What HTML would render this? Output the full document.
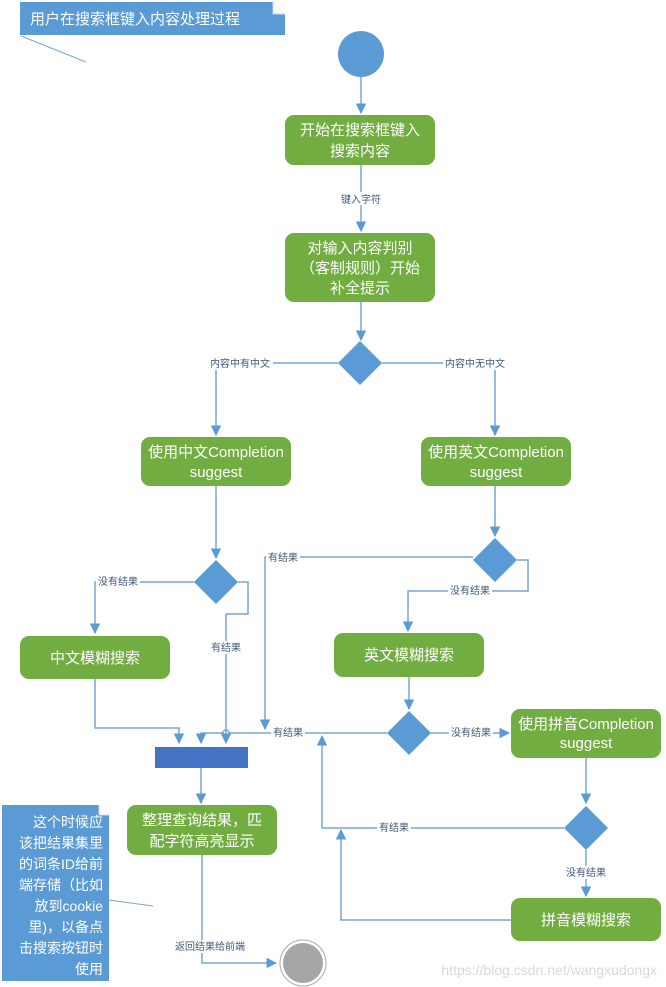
<!DOCTYPE html>
<html><head><meta charset="utf-8"><style>
html,body{margin:0;padding:0;background:#fff;}
svg{display:block;font-family:"Liberation Sans","Noto Sans CJK SC",sans-serif;}
.g{fill:#72ad41;}
.t{fill:#fff;font-size:15px;text-anchor:middle;}
.l{fill:#41597a;font-size:10px;text-anchor:middle;}
.ln{stroke:#7aa5d8;stroke-width:1.5;fill:none;}
.d{fill:#5b9bd5;}
</style></head><body>
<svg width="666" height="987" viewBox="0 0 666 987" xmlns="http://www.w3.org/2000/svg">
<defs><marker id="a" viewBox="0 0 10 10" refX="9" refY="5" markerWidth="7" markerHeight="7" orient="auto"><path d="M0,0L10,5L0,10z" fill="#5b9bd5"/></marker></defs>
<rect x="0" y="0" width="666" height="987" fill="#fff"/>
<!-- title note -->
<path d="M20,2H273L285,14V35H20Z" fill="#5b9bd5"/>
<path d="M273,2V14H285" fill="#fff" stroke="#c8d8ee" stroke-width="1"/>
<line x1="21" y1="36" x2="86" y2="62" stroke="#7aa5d8" stroke-width="1"/>
<text x="30" y="24" fill="#fff" font-size="15">用户在搜索框键入内容处理过程</text>
<!-- start -->
<circle cx="361" cy="54" r="23" class="d"/>
<line class="ln" x1="361" y1="77" x2="361" y2="113" marker-end="url(#a)"/>
<rect class="g" x="285" y="115" width="150" height="50" rx="9"/>
<text class="t" x="360" y="135">开始在搜索框键入</text>
<text class="t" x="360" y="156">搜索内容</text>
<line class="ln" x1="361" y1="165" x2="361" y2="231" marker-end="url(#a)"/>
<rect x="336" y="192" width="50" height="13" fill="#fff"/>
<text class="l" x="361" y="203">键入字符</text>
<rect class="g" x="285" y="233" width="150" height="69" rx="9"/>
<text class="t" x="360" y="253">对输入内容判别</text>
<text class="t" x="360" y="273">（客制规则）开始</text>
<text class="t" x="360" y="293">补全提示</text>
<line class="ln" x1="361" y1="302" x2="361" y2="340" marker-end="url(#a)"/>
<path class="d" d="M360,341L382,363L360,385L338,363Z"/>
<path class="ln" d="M338,363H216V435" marker-end="url(#a)"/>
<rect x="208" y="357" width="65" height="13" fill="#fff"/>
<text class="l" x="240" y="367">内容中有中文</text>
<path class="ln" d="M382,363H495V435" marker-end="url(#a)"/>
<rect x="443" y="357" width="65" height="13" fill="#fff"/>
<text class="l" x="475" y="367">内容中无中文</text>
<rect class="g" x="141" y="437" width="150" height="49" rx="9"/>
<text class="t" x="216" y="457">使用中文Completion</text>
<text class="t" x="216" y="477" font-size="13">suggest</text>
<rect class="g" x="421" y="437" width="150" height="49" rx="9"/>
<text class="t" x="496" y="457">使用英文Completion</text>
<text class="t" x="496" y="477" font-size="13">suggest</text>
<!-- left diamond -->
<line class="ln" x1="216" y1="486" x2="216" y2="558" marker-end="url(#a)"/>
<path class="d" d="M216,560L238,582L216,604L194,582Z"/>
<path class="ln" d="M194,582H95V633" marker-end="url(#a)"/>
<rect x="96" y="575" width="44" height="13" fill="#fff"/>
<text class="l" x="118" y="585">没有结果</text>
<path class="ln" d="M238,582H248V614H226V743" marker-end="url(#a)"/>
<rect x="209" y="641" width="34" height="13" fill="#fff"/>
<text class="l" x="226" y="651">有结果</text>
<rect class="g" x="20" y="636" width="150" height="43" rx="9"/>
<text class="t" x="95" y="663">中文模糊搜索</text>
<path class="ln" d="M95,679V728H179V743" marker-end="url(#a)"/>
<!-- right diamond 2 -->
<line class="ln" x1="495" y1="486" x2="495" y2="536" marker-end="url(#a)"/>
<path class="d" d="M495,538L517,560L495,582L473,560Z"/>
<path class="ln" d="M473,557H265V729" marker-end="url(#a)"/>
<rect x="266" y="551" width="34" height="13" fill="#fff"/>
<text class="l" x="283" y="561">有结果</text>
<path class="ln" d="M517,560H528V591H408V631" marker-end="url(#a)"/>
<rect x="448" y="584" width="44" height="13" fill="#fff"/>
<text class="l" x="470" y="594">没有结果</text>
<rect class="g" x="334" y="633" width="150" height="44" rx="9"/>
<text class="t" x="409" y="660">英文模糊搜索</text>
<line class="ln" x1="409" y1="677" x2="409" y2="709" marker-end="url(#a)"/>
<path class="d" d="M409,711L431,733L409,755L387,733Z"/>
<path class="ln" d="M387,733H229a3,3 0 0 0 -6,0H201V743" marker-end="url(#a)"/>
<rect x="271" y="726" width="34" height="13" fill="#fff"/>
<text class="l" x="288" y="736">有结果</text>
<line class="ln" x1="431" y1="733" x2="509" y2="733" marker-end="url(#a)"/>
<rect x="449" y="726" width="44" height="13" fill="#fff"/>
<text class="l" x="471" y="736">没有结果</text>
<rect class="g" x="511" y="709" width="150" height="49" rx="9"/>
<text class="t" x="586" y="729">使用拼音Completion</text>
<text class="t" x="586" y="748" font-size="13">suggest</text>
<line class="ln" x1="586" y1="758" x2="586" y2="803" marker-end="url(#a)"/>
<path class="d" d="M586,806L608,828L586,850L564,828Z"/>
<path class="ln" d="M564,828H322V736" marker-end="url(#a)"/>
<rect x="377" y="821" width="34" height="13" fill="#fff"/>
<text class="l" x="394" y="831">有结果</text>
<line class="ln" x1="586" y1="850" x2="586" y2="896" marker-end="url(#a)"/>
<rect x="564" y="866" width="44" height="13" fill="#fff"/>
<text class="l" x="586" y="876">没有结果</text>
<rect class="g" x="511" y="898" width="150" height="43" rx="9"/>
<text class="t" x="586" y="925">拼音模糊搜索</text>
<path class="ln" d="M511,920H341V830" marker-end="url(#a)"/>
<!-- join bar -->
<rect x="155" y="747" width="93" height="21" fill="#4472c4"/>
<line class="ln" x1="201" y1="768" x2="201" y2="803" marker-end="url(#a)"/>
<rect class="g" x="127" y="805" width="150" height="50" rx="9"/>
<text class="t" x="202" y="825">整理查询结果，匹</text>
<text class="t" x="202" y="846">配字符高亮显示</text>
<path class="ln" d="M202,855V963H276" marker-end="url(#a)"/>
<rect x="165" y="940" width="75" height="13" fill="#fff"/>
<text class="l" x="210" y="950">返回结果给前端</text>
<circle cx="303" cy="963" r="23" fill="#fff" stroke="#aaa" stroke-width="1"/>
<circle cx="303" cy="963" r="20" fill="#a6a6a6"/>
<!-- left note -->
<path d="M2,805H99L109,815V981H2Z" fill="#5b9bd5"/>
<path d="M99,805V815H109" fill="#fff" stroke="#c8d8ee" stroke-width="1"/>
<line x1="109" y1="900" x2="153" y2="906" stroke="#7aa5d8" stroke-width="1"/>
<g fill="#fff" font-size="14" text-anchor="end">
<text x="103" y="827">这个时候应</text>
<text x="103" y="848">该把结果集里</text>
<text x="103" y="869">的词条ID给前</text>
<text x="103" y="890">端存储（比如</text>
<text x="103" y="911">放到cookie</text>
<text x="103" y="932">里)，以备点</text>
<text x="103" y="953">击搜索按钮时</text>
<text x="103" y="974">使用</text>
</g>
<text x="657" y="975" fill="#d8d8d8" font-size="14" text-anchor="end">https://blog.csdn.net/wangxudongx</text>
</svg>
</body></html>
